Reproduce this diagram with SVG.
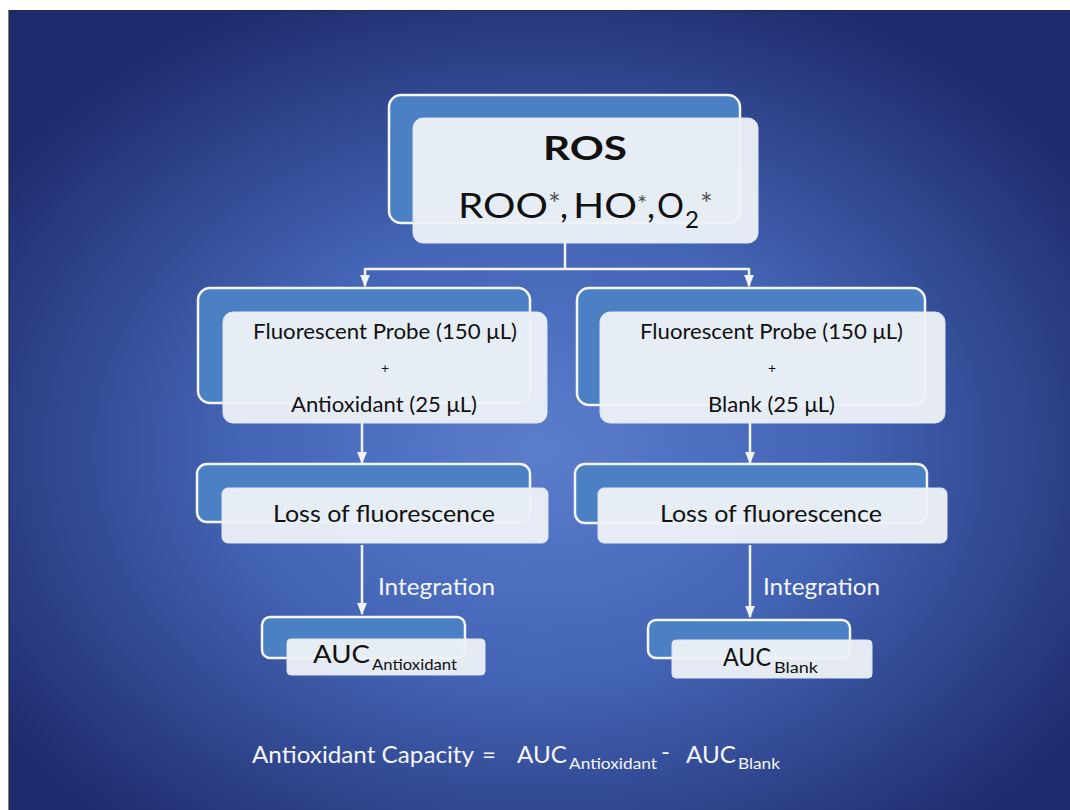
<svg xmlns="http://www.w3.org/2000/svg" width="1070" height="810" viewBox="0 0 1070 810">
  <defs>
    <radialGradient id="bg" cx="0.5" cy="0.55" r="0.62">
      <stop offset="0" stop-color="#5b7dcc"/>
      <stop offset="0.45" stop-color="#4465b6"/>
      <stop offset="1" stop-color="#1f2b6c"/>
    </radialGradient>
    <marker id="arr" viewBox="0 0 10 10" refX="9" refY="5" markerWidth="5" markerHeight="5" orient="auto" markerUnits="strokeWidth">
      <path d="M0,1 L10,5 L0,9 Z" fill="#f2f4fa"/>
    </marker>
    <style>
      .back { fill: #4b80c4; stroke: #f4f6fb; stroke-width: 2.5; }
      .front { fill: #eef2f8; fill-opacity: 0.95; stroke: #dfe7f3; stroke-width: 1; }
      .t { font-family: Lato, "Open Sans", "Liberation Sans", sans-serif; fill: #111; }
      .w { font-family: Lato, "Open Sans", "Liberation Sans", sans-serif; fill: #f4f6fb; }
      .conn { stroke: #f2f4fa; stroke-width: 2.5; fill: none; }
    </style>
  </defs>
  <rect x="0" y="0" width="1070" height="810" fill="#ffffff"/>
  <rect x="9" y="10" width="1061" height="800" fill="url(#bg)"/>
  <path d="M9,810 V10.5 H1070" fill="none" stroke="#222a40" stroke-width="1.2"/>

  <g id="connectors">
    <path class="conn" d="M565,243 V269"/>
    <path class="conn" d="M365,269 H749"/>
    <path class="conn" d="M365,268 V286" marker-end="url(#arr)"/>
    <path class="conn" d="M749,268 V286" marker-end="url(#arr)"/>
    <path class="conn" d="M362,423 V463" marker-end="url(#arr)"/>
    <path class="conn" d="M750,423 V463" marker-end="url(#arr)"/>
    <path class="conn" d="M362,545 V614" marker-end="url(#arr)"/>
    <path class="conn" d="M750,545 V617" marker-end="url(#arr)"/>
    <text class="w" x="378" y="595" font-size="24" textLength="117" lengthAdjust="spacingAndGlyphs">Integration</text>
    <text class="w" x="763" y="595" font-size="24" textLength="117" lengthAdjust="spacingAndGlyphs">Integration</text>
  </g>

  <g id="ros">
    <rect class="back" x="389" y="95" width="351" height="128" rx="12"/>
    <rect class="front" x="413" y="118" width="345" height="125" rx="10"/>
    <text class="t" x="543" y="160" font-size="33" font-weight="bold" textLength="84" lengthAdjust="spacingAndGlyphs">ROS</text>
    <g class="t" font-size="35">
      <text x="458" y="218" textLength="90" lengthAdjust="spacingAndGlyphs">ROO</text>
      <text x="548" y="215" font-size="30" fill="#555">*</text>
      <text x="560" y="218">,</text>
      <text x="573" y="218" textLength="64" lengthAdjust="spacingAndGlyphs">HO</text>
      <text x="637" y="212" font-size="24" fill="#555">*</text>
      <text x="647" y="218">,</text>
      <text x="657" y="218" textLength="27" lengthAdjust="spacingAndGlyphs">O</text>
      <text x="685" y="228" font-size="24">2</text>
      <text x="700" y="215" font-size="30" fill="#555">*</text>
    </g>
  </g>

  <g id="probe-antioxidant">
    <rect class="back" x="198" y="288" width="332" height="115" rx="12"/>
    <rect class="front" x="223" y="312" width="324" height="111" rx="10"/>
    <text class="t" x="253" y="339" font-size="21" textLength="264" lengthAdjust="spacingAndGlyphs">Fluorescent Probe (150 μL)</text>
    <text class="t" x="385" y="373" font-size="14" text-anchor="middle">+</text>
    <text class="t" x="291" y="412" font-size="21" textLength="186" lengthAdjust="spacingAndGlyphs">Antioxidant (25 μL)</text>
  </g>

  <g id="probe-blank">
    <rect class="back" x="577" y="288" width="348" height="117" rx="12"/>
    <rect class="front" x="600" y="312" width="345" height="111" rx="10"/>
    <text class="t" x="640" y="339" font-size="21" textLength="263" lengthAdjust="spacingAndGlyphs">Fluorescent Probe (150 μL)</text>
    <text class="t" x="772" y="373" font-size="14" text-anchor="middle">+</text>
    <text class="t" x="708" y="412" font-size="21" textLength="127" lengthAdjust="spacingAndGlyphs">Blank (25 μL)</text>
  </g>

  <g id="loss-left">
    <rect class="back" x="197" y="464" width="333" height="58" rx="10"/>
    <rect class="front" x="222" y="488" width="326" height="55" rx="6"/>
    <text class="t" x="273" y="522" font-size="24" textLength="222" lengthAdjust="spacingAndGlyphs">Loss of fluorescence</text>
  </g>

  <g id="loss-right">
    <rect class="back" x="575" y="464" width="352" height="59" rx="10"/>
    <rect class="front" x="598" y="488" width="349" height="55" rx="6"/>
    <text class="t" x="660" y="522" font-size="24" textLength="222" lengthAdjust="spacingAndGlyphs">Loss of fluorescence</text>
  </g>

  <g id="auc-antioxidant">
    <rect class="back" x="262" y="617" width="203" height="41" rx="8"/>
    <rect class="front" x="287" y="639" width="198" height="36" rx="4"/>
    <text class="t" x="313" y="663" font-size="25" textLength="57" lengthAdjust="spacingAndGlyphs">AUC</text>
    <text class="t" x="372" y="670" font-size="16" textLength="85" lengthAdjust="spacingAndGlyphs">Antioxidant</text>
  </g>

  <g id="auc-blank">
    <rect class="back" x="648" y="620" width="202" height="38" rx="8"/>
    <rect class="front" x="672" y="640" width="200" height="38" rx="4"/>
    <text class="t" x="723" y="666" font-size="25" textLength="48" lengthAdjust="spacingAndGlyphs">AUC</text>
    <text class="t" x="774" y="673" font-size="16" textLength="44" lengthAdjust="spacingAndGlyphs">Blank</text>
  </g>

  <g id="formula" class="w">
    <text x="252" y="763" font-size="24" textLength="222" lengthAdjust="spacingAndGlyphs">Antioxidant Capacity</text>
    <text x="482" y="763" font-size="24">=</text>
    <text x="517" y="763" font-size="24" textLength="50" lengthAdjust="spacingAndGlyphs">AUC</text>
    <text x="569" y="769" font-size="15" textLength="88" lengthAdjust="spacingAndGlyphs">Antioxidant</text>
    <text x="661" y="760" font-size="24">-</text>
    <text x="686" y="763" font-size="24" textLength="50" lengthAdjust="spacingAndGlyphs">AUC</text>
    <text x="738" y="769" font-size="15" textLength="42" lengthAdjust="spacingAndGlyphs">Blank</text>
  </g>
</svg>
